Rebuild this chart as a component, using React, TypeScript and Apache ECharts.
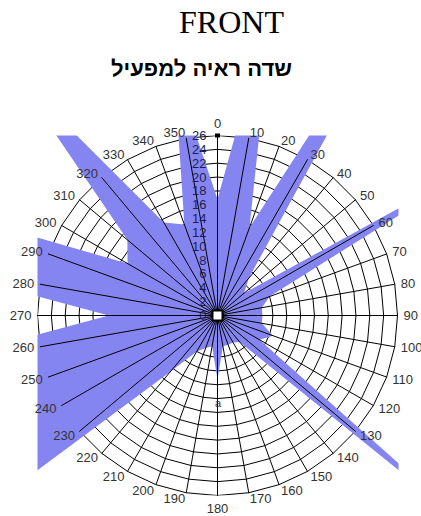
import React, { useEffect, useRef } from 'react';
import * as echarts from 'echarts';

// Bearing categories (degrees, clockwise from the top)
const categories = ['0','10','20','30','40','50','60','70','80','90','100','110','120','130','140','150','160','170','180','190','200','210','220','230','240','250','260','270','280','290','300','310','320','330','340','350'];
// Visibility-field value per bearing (values above the axis max run past the plot frame)
const fieldValues = [16.8, 47, 13.5, 60, 7, 5, 45, 8, 6.5, 6.5, 6.5, 8.5, 7, 50, 5, 4.5, 4.5, 4.5, 9.2, 4.5, 5, 6, 10.6, 41, 45, 45, 46, 15.7, 46, 53, 15, 17, 46, 15.5, 14, 36];
const axisMin = 0;
const axisMax = 26;
const axisStep = 2;
const titleText = 'FRONT';
const subtitleText = 'שדה ראיה למפעיל';
const strayMark = 'a';

const W = 421;
const H = 516;
const CX = 217.5;
const CY = 315.5;
const R = 180;
const SANS = '"Liberation Sans", Arial, sans-serif';

export default function App() {
  const ref = useRef<HTMLDivElement>(null);

  useEffect(() => {
    if (!ref.current) return;
    const chart = echarts.init(ref.current, null, { renderer: 'svg', width: W, height: H });

    // radar indicators run counter-clockwise, so order bearings 0, 350, 340, ... 10
    const n = categories.length;
    const order = categories.map((_, i) => (n - i) % n);
    const splitNumber = (axisMax - axisMin) / axisStep;

    const baseIndicators = order.map((i) => ({ name: categories[i], min: axisMin, max: axisMax }));
    const topIndicators = order.map((i, k) =>
      k === 0
        ? {
            name: categories[i],
            min: axisMin,
            max: axisMax,
            axisLabel: {
              show: true,
              fontSize: 13,
              lineHeight: 13,
              fontFamily: SANS,
              color: '#1e1e50',
              margin: 11,
            },
          }
        : { name: categories[i], min: axisMin, max: axisMax }
    );

    const left = CX - R;
    const right = CX + R;
    const top = CY - R;
    const bottom = CY + R;

    chart.setOption({
      animation: false,
      backgroundColor: '#ffffff',
      radar: [
        {
          z: 0,
          center: [CX, CY],
          radius: R,
          startAngle: 90,
          shape: 'polygon',
          splitNumber,
          indicator: baseIndicators,
          axisName: { show: false },
          axisLine: { show: false },
          axisTick: { show: false },
          axisLabel: { show: false },
          splitArea: { show: false },
          splitLine: { show: true, lineStyle: { color: '#000000', width: 1 } },
        },
        {
          z: 5,
          center: [CX, CY],
          radius: R,
          startAngle: 90,
          shape: 'polygon',
          splitNumber,
          nameGap: 6,
          indicator: topIndicators,
          axisName: { show: true, color: '#333333', fontSize: 13, fontFamily: SANS },
          axisLine: { show: true, lineStyle: { color: '#000000', width: 1 } },
          axisTick: { show: false },
          axisLabel: { show: false },
          splitArea: { show: false },
          splitLine: { show: false },
        },
      ],
      series: [
        {
          type: 'radar',
          radarIndex: 0,
          z: 2,
          symbol: 'none',
          silent: true,
          lineStyle: { width: 0, color: '#8585f2' },
          areaStyle: { color: '#8585f2', opacity: 1 },
          data: [{ value: order.map((i) => fieldValues[i]), name: 'field' }],
        },
      ],
      graphic: {
        elements: [
          { type: 'rect', z: 3, silent: true, shape: { x: 0, y: 0, width: W, height: top }, style: { fill: '#ffffff' } },
          { type: 'rect', z: 3, silent: true, shape: { x: 0, y: bottom, width: W, height: H - bottom }, style: { fill: '#ffffff' } },
          { type: 'rect', z: 3, silent: true, shape: { x: 0, y: 0, width: left, height: H }, style: { fill: '#ffffff' } },
          { type: 'rect', z: 3, silent: true, shape: { x: right + 1, y: 0, width: W - right, height: H }, style: { fill: '#ffffff' } },
          {
            type: 'text',
            z: 10,
            x: 231.5,
            y: 22,
            style: { text: titleText, fill: '#000000', font: '32px "Liberation Serif", "Times New Roman", serif', align: 'center', verticalAlign: 'middle' },
          },
          {
            type: 'text',
            z: 10,
            x: 201.5,
            y: 68,
            style: { text: subtitleText, fill: '#000000', font: 'bold 22px "Liberation Sans", Arial, sans-serif', align: 'center', verticalAlign: 'middle' },
          },
          {
            type: 'text',
            z: 10,
            x: 218,
            y: 403,
            style: { text: strayMark, fill: '#333333', font: '11px "Liberation Sans", Arial, sans-serif', align: 'center', verticalAlign: 'middle' },
          },
          {
            type: 'rect',
            z: 10,
            shape: { x: CX - 5, y: CY - 5, width: 10, height: 10 },
            style: { fill: '#ffffff', stroke: '#000000', lineWidth: 2 },
          },
          {
            type: 'rect',
            z: 10,
            shape: { x: CX - 2.5, y: top - 2, width: 5, height: 4 },
            style: { fill: '#000000' },
          },
        ],
      },
    });

    return () => {
      chart.dispose();
    };
  }, []);

  return (
    <div
      ref={ref}
      style={{ position: 'absolute', left: 0, top: 0, width: W, height: H, background: '#ffffff' }}
    />
  );
}
